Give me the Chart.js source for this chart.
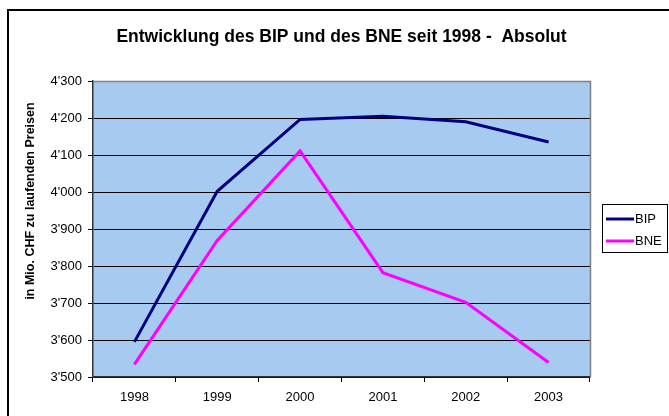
<!DOCTYPE html>
<html>
<head>
<meta charset="utf-8">
<script src="https://cdn.jsdelivr.net/npm/chart.js@4/dist/chart.umd.min.js"></script>
<style>
html,body{margin:0;padding:0;background:#fff;}
#wrap{width:669px;height:416px;position:relative;}
</style>
</head>
<body>
<div id="wrap"><canvas id="c" width="669" height="416"></canvas></div>
<script>
const years = ['1998','1999','2000','2001','2002','2003'];
const bip = [3595, 4002, 4196, 4205, 4190, 4135];
const bne = [3534, 3869, 4111, 3782, 3702, 3539];
const seriesNames = ['BIP','BNE'];
const chartTitle = 'Entwicklung des BIP und des BNE seit 1998 -  Absolut';
const yTitle = 'in Mio. CHF zu laufenden Preisen';
const yMin = 3500, yMax = 4300, yStep = 100;

const FONT = 'Arial, "Liberation Sans", sans-serif';

function fmt(v){
  const s = String(Math.round(v));
  return s.replace(/\B(?=(\d{3})+(?!\d))/g, "'");
}

const framePlugin = {
  id: 'frame',
  beforeDraw(chart){
    const {ctx, chartArea:a} = chart;
    ctx.save();
    ctx.fillStyle = '#fff';
    ctx.fillRect(0,0,chart.width,chart.height);
    ctx.strokeStyle = '#000';
    ctx.lineWidth = 2;
    ctx.strokeRect(8, 10, 700, 500);
    ctx.fillStyle = '#A6CAF0';
    ctx.fillRect(a.left, a.top, a.right - a.left, a.bottom - a.top);
    ctx.restore();
  },
  afterDraw(chart){
    const {ctx, chartArea:a} = chart;
    ctx.save();
    ctx.strokeStyle = '#808080';
    ctx.lineWidth = 1.5;
    ctx.beginPath();
    ctx.moveTo(a.left, a.top + 0.5);
    ctx.lineTo(a.right + 0.5, a.top + 0.5);
    ctx.lineTo(a.right + 0.5, a.bottom);
    ctx.stroke();
    ctx.fillStyle = '#000';
    ctx.font = 'bold 12.5px ' + FONT;
    ctx.textAlign = 'center';
    ctx.textBaseline = 'middle';
    ctx.translate(31, 201);
    ctx.rotate(-Math.PI/2);
    ctx.fillText(yTitle, 0, 0);
    ctx.restore();
    // legend
    ctx.save();
    ctx.fillStyle = '#fff';
    ctx.fillRect(602, 204, 65, 48);
    ctx.strokeStyle = '#000';
    ctx.lineWidth = 1;
    ctx.strokeRect(602.5, 204.5, 65, 48);
    ctx.font = '13px ' + FONT;
    ctx.textAlign = 'left';
    ctx.textBaseline = 'middle';
    chart.data.datasets.forEach((ds, i) => {
      const y = 219 + i * 22;
      ctx.strokeStyle = ds.borderColor;
      ctx.lineWidth = 3;
      ctx.beginPath();
      ctx.moveTo(606, y);
      ctx.lineTo(634, y);
      ctx.stroke();
      ctx.fillStyle = '#000';
      ctx.fillText(ds.label, 635, y + 0.5);
    });
    ctx.restore();
  }
};

new Chart(document.getElementById('c'), {
  type: 'line',
  data: {
    labels: years,
    datasets: [
      {label: seriesNames[0], data: bip, borderColor: '#000080', backgroundColor: '#000080', borderWidth: 3, pointRadius: 0, tension: 0, fill: false},
      {label: seriesNames[1], data: bne, borderColor: '#FF00FF', backgroundColor: '#FF00FF', borderWidth: 3, pointRadius: 0, tension: 0, fill: false}
    ]
  },
  options: {
    responsive: false,
    animation: false,
    devicePixelRatio: 1,
    layout: {padding: {left: 0, right: 79, top: 0, bottom: 0}},
    plugins: {
      legend: {display: false},
      tooltip: {enabled: false},
      title: {
        display: true,
        fullSize: false,
        text: chartTitle,
        color: '#000',
        font: {family: FONT, size: 17.5, weight: 'bold', lineHeight: 1.2},
        padding: {top: 26.5, bottom: 33.5}
      }
    },
    scales: {
      x: {
        offset: true,
        grid: {offset: true, drawOnChartArea: false, drawTicks: true, tickLength: 5, color: '#000', lineWidth: 1},
        border: {display: true, color: '#333', width: 1.5},
        ticks: {color: '#000', font: {family: FONT, size: 13}, padding: 8, maxRotation: 0},
        afterFit(s){ s.height = 39; }
      },
      y: {
        min: yMin, max: yMax,
        grid: {color: '#000', lineWidth: 1, drawTicks: true, tickLength: 5},
        border: {display: true, color: '#333', width: 1.5},
        ticks: {stepSize: yStep, color: '#000', font: {family: FONT, size: 13}, padding: 6, callback: v => fmt(v)},
        afterFit(s){ s.width = 93; }
      }
    }
  },
  plugins: [framePlugin]
});
</script>
</body>
</html>
